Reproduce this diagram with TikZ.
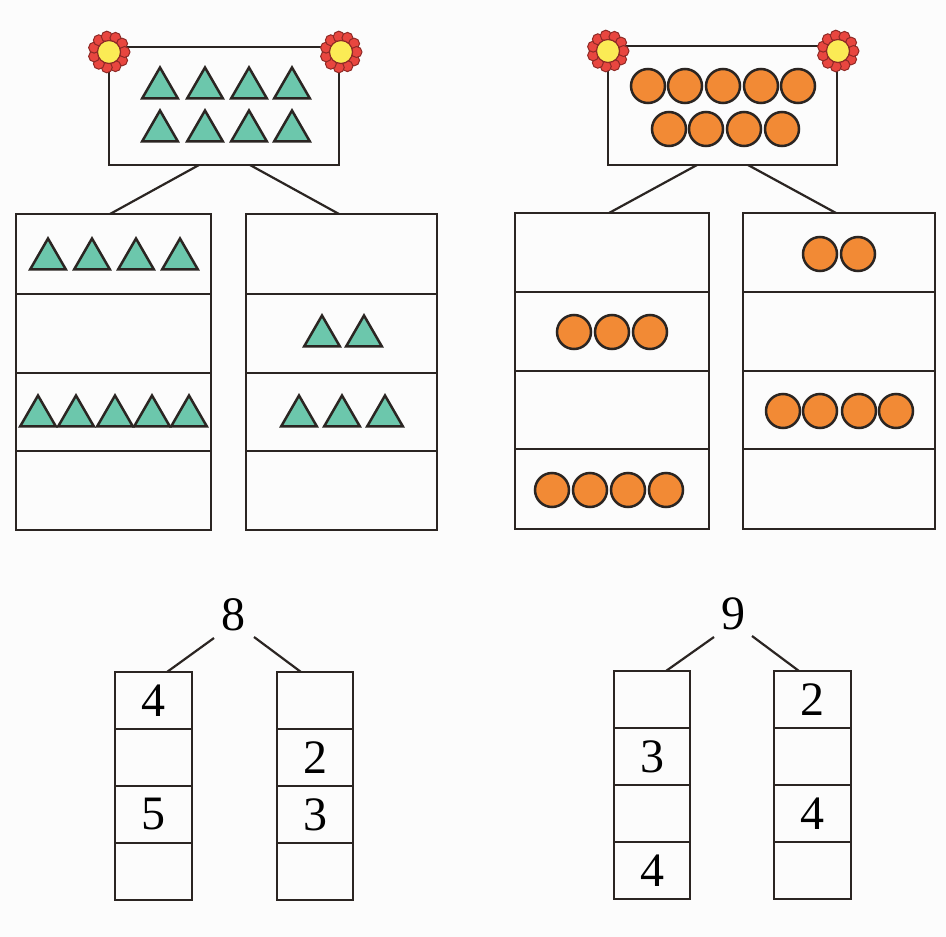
\documentclass[tikz,border=0pt]{standalone}
\usepackage{fontspec}
\setmainfont{Liberation Serif}
\usetikzlibrary{shapes.geometric}
\definecolor{ink}{HTML}{2B2522}
\definecolor{teal1}{HTML}{6CC7AC}
\definecolor{orange1}{HTML}{F28A35}
\definecolor{petal1}{HTML}{E8463F}
\definecolor{petal2}{HTML}{8E2A26}
\definecolor{yellow1}{HTML}{FBEB55}
\tikzset{
  cell/.style={draw=ink,line width=2.5pt,anchor=north west,inner sep=0pt,outer sep=0pt,font=\fontsize{48}{48}\selectfont},
  tri/.style={regular polygon,regular polygon sides=3,draw=ink,fill=teal1,line width=2.5pt,minimum size=41pt,inner sep=0pt,outer sep=0pt},
  ball/.style={circle,draw=ink,fill=orange1,line width=2.5pt,minimum size=34pt,inner sep=0pt,outer sep=0pt},
  petal/.style={circle,draw=petal2,fill=petal1,line width=1pt,minimum size=11pt,inner sep=0pt},
  heart/.style={circle,draw=petal2,fill=yellow1,line width=1.2pt,minimum size=23pt,inner sep=0pt},
  num/.style={font=\fontsize{48}{48}\selectfont,inner sep=0pt},
  wire/.style={draw=ink,line width=2.2pt},
  flower/.pic={
    \foreach \n in {1,...,11} {\node[petal] (p\n) at ({\n*360/11}:15.5) {};}
    \node[heart] (h) at (0,0) {};
  }
}
\begin{document}
\begin{tikzpicture}[x=1pt,y=-1pt]
\useasboundingbox (0,0) rectangle (946,937);
\fill[white!99!black] (0,0) rectangle (946,937);

% triangles, top
\node[cell,minimum width=230,minimum height=118] (topA) at (109,47) {};
\foreach \x in {160,205,249,292} {
  \node[tri] (ta\x) at (\x,88) {};
  \node[tri] (tb\x) at (\x,131) {};
}
\pic at (109,52) {flower};
\pic at (341,52) {flower};

% triangles, two columns
\foreach \n/\t/\h in {1/214/80,2/294/79,3/373/78,4/451/79} {
  \node[cell,minimum width=195,minimum height=\h] (la\n) at (16,\t) {};
  \node[cell,minimum width=191,minimum height=\h] (lb\n) at (246,\t) {};
}
\foreach \x in {48,92,136,180} {\node[tri] (r1\x) at (\x,259) {};}
\foreach \x in {38,76,115,152,189} {\node[tri] (r3\x) at (\x,416) {};}
\foreach \x in {322,364} {\node[tri] (s2\x) at (\x,336) {};}
\foreach \x in {299,342,385} {\node[tri] (s3\x) at (\x,416) {};}

\coordinate (a1) at (199,165);
\coordinate (a2) at (250,165);
\coordinate (a3) at (110,214);
\coordinate (a4) at (339,214);
\draw[wire] (a1) -- (a3);
\draw[wire] (a2) -- (a4);

% circles, top
\node[cell,minimum width=229,minimum height=119] (topB) at (608,46) {};
\foreach \x in {648,685,723,761,798} {\node[ball] (ca\x) at (\x,86) {};}
\foreach \x in {669,706,744,782} {\node[ball] (cb\x) at (\x,129) {};}
\pic at (608,51) {flower};
\pic at (838,51) {flower};

% circles, two columns
\foreach \n/\t/\h in {1/213/79,2/292/79,3/371/78,4/449/80} {
  \node[cell,minimum width=194,minimum height=\h] (ra\n) at (515,\t) {};
  \node[cell,minimum width=192,minimum height=\h] (rb\n) at (743,\t) {};
}
\foreach \x in {574,612,650} {\node[ball] (u2\x) at (\x,332) {};}
\foreach \x in {552,590,628,666} {\node[ball] (u4\x) at (\x,490) {};}
\foreach \x in {820,858} {\node[ball] (v1\x) at (\x,254) {};}
\foreach \x in {783,820,859,896} {\node[ball] (v3\x) at (\x,411) {};}

\coordinate (b1) at (697,165);
\coordinate (b2) at (748,165);
\coordinate (b3) at (609,213);
\coordinate (b4) at (836,213);
\draw[wire] (b1) -- (b3);
\draw[wire] (b2) -- (b4);

% numbers, left
\node[num] (eight) at (233,615) {8};
\foreach \n/\t/\tx/\ty in {1/672/4/,2/729//2,3/786/5/3,4/843//} {
  \node[cell,minimum width=77,minimum height=57] (na\n) at (115,\t) {\tx};
  \node[cell,minimum width=76,minimum height=57] (nb\n) at (277,\t) {\ty};
}
\coordinate (c1) at (214,638);
\coordinate (c2) at (167,672);
\coordinate (c3) at (254,637);
\coordinate (c4) at (301,672);
\draw[wire] (c1) -- (c2);
\draw[wire] (c3) -- (c4);

% numbers, right
\node[num] (nine) at (733,614) {9};
\foreach \n/\t/\tx/\ty in {1/671//2,2/728/3/,3/785//4,4/842/4/} {
  \node[cell,minimum width=76,minimum height=57] (ma\n) at (614,\t) {\tx};
  \node[cell,minimum width=77,minimum height=57] (mb\n) at (774,\t) {\ty};
}
\coordinate (d1) at (714,637);
\coordinate (d2) at (666,671);
\coordinate (d3) at (752,636);
\coordinate (d4) at (799,671);
\draw[wire] (d1) -- (d2);
\draw[wire] (d3) -- (d4);
\end{tikzpicture}
\end{document}
